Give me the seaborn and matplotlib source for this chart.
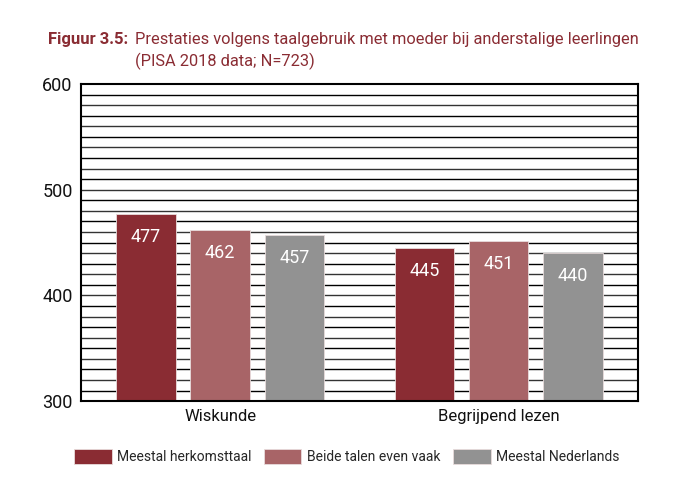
import matplotlib
matplotlib.use('Agg')
import matplotlib.pyplot as plt
import pandas as pd
import seaborn as sns

sns.set_style('white')
plt.rcParams['font.family'] = ['Roboto', 'DejaVu Sans']

# data
categories = ['Wiskunde', 'Begrijpend lezen']
groups = ['Meestal herkomsttaal', 'Beide talen even vaak', 'Meestal Nederlands']
wiskunde = [477, 462, 457]
lezen = [445, 451, 440]
colors = ['#8a2c33', '#a86467', '#929292']
title_color = '#8a2c33'

rows = []
for g, w, l in zip(groups, wiskunde, lezen):
    rows.append({'vak': categories[0], 'groep': g, 'score': w})
    rows.append({'vak': categories[1], 'groep': g, 'score': l})
df = pd.DataFrame(rows)

fig = plt.figure(figsize=(6.8, 4.91), dpi=100)
ax = fig.add_axes([0.119, 0.183, 0.819, 0.646])

# horizontal grid every 10 points
for i, yv in enumerate(range(310, 600, 10)):
    ax.axhline(yv, color='black' if i % 2 == 0 else '#333333', lw=1.0, zorder=0)

sns.barplot(data=df, x='vak', y='score', hue='groep', order=categories,
            hue_order=groups, palette=colors, width=0.8, gap=0.2,
            edgecolor='#e8dcdc', linewidth=0.6, saturation=1, ax=ax,
            zorder=2, legend=True)

for cont in ax.containers:
    ax.bar_label(cont, labels=[f'{v:.0f}' for v in cont.datavalues],
                 padding=-23, color='white', fontsize=13)

ax.set_ylim(300, 600)
ax.set_xlim(-0.5, 1.5)
ax.set_yticks([300, 400, 500, 600])
ax.tick_params(axis='y', length=0, labelsize=13, pad=6, labelcolor='#111111')
ax.tick_params(axis='x', length=0, labelsize=12, pad=6, labelcolor='#111111')
ax.set_xticks([0.5], minor=True)
ax.tick_params(axis='x', which='minor', direction='in', length=5, width=1, color='black')
ax.set_xlabel('')
ax.set_ylabel('')
for s in ax.spines.values():
    s.set_color('black')
    s.set_linewidth(1.5)
    s.set_visible(True)

handles, labels = ax.get_legend_handles_labels()
ax.legend_.remove()
fig.legend(handles, labels, loc='center', bbox_to_anchor=(0.51, 0.071), ncol=3,
           frameon=False, fontsize=10, handlelength=2.7, handleheight=1.3,
           columnspacing=0.9, handletextpad=0.4)

fig.text(0.07, 0.91, 'Figuur 3.5:', color=title_color, fontsize=12,
         fontweight='bold', va='baseline')
fig.text(0.199, 0.91, 'Prestaties volgens taalgebruik met moeder bij anderstalige leerlingen',
         color=title_color, fontsize=11.8, va='baseline')
fig.text(0.199, 0.866, '(PISA 2018 data; N=723)', color=title_color, fontsize=11.8,
         va='baseline')

fig.savefig('out.png', dpi=100)
